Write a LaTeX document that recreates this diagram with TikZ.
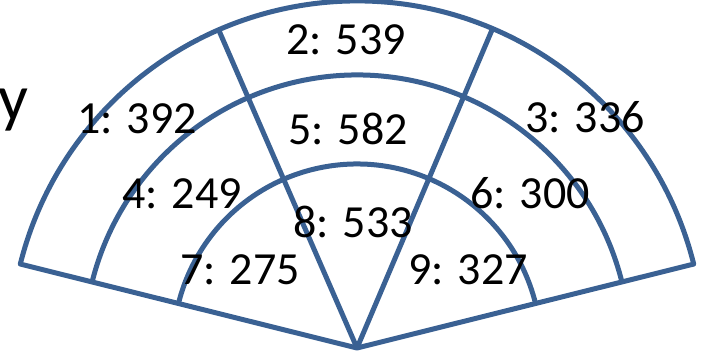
\documentclass[tikz,border=0pt]{standalone}
\usepackage{fontspec}
\setmainfont{Carlito}
\usepackage{tikz}
\usetikzlibrary{calc}
\definecolor{fanBlue}{HTML}{3A6193}

\begin{document}
\begin{tikzpicture}[x=1pt,y=1pt,
  rim/.style={draw=fanBlue,line width=5pt,line join=round},
  etiket/.style={anchor=base,inner sep=0pt,font=\fontsize{46}{54}\selectfont}]
\useasboundingbox (0,0) rectangle (703,357);
\coordinate (O) at (357,9);
\coordinate (dis1) at ($(O)+(14:347)$);
\coordinate (dis2) at ($(O)+(166:347)$);
\coordinate (ustSol) at ($(O)+(113.5:347)$);
\coordinate (ustSag) at ($(O)+(67:347)$);
% fan outline and rings
\draw[rim] (O) -- (dis1) arc[start angle=14,end angle=166,radius=347] -- cycle;
\draw[rim] ($(O)+(14:273)$) arc[start angle=14,end angle=166,radius=273];
\draw[rim] ($(O)+(14:184)$) arc[start angle=14,end angle=166,radius=184];
\draw[rim] (O) -- (ustSol);
\draw[rim] (O) -- (ustSag);
% cell labels
\node[anchor=base east,inner sep=0pt,font=\fontsize{66}{76}\selectfont] (baslik) at (29,237) {y};
\node[etiket] (h1) at (137,224) {1: 392};
\node[etiket] (h2) at (346,302) {2: 539};
\node[etiket] (h3) at (585,225) {3: 336};
\node[etiket] (h4) at (182,149) {4: 249};
\node[etiket] (h5) at (348,213) {5: 582};
\node[etiket] (h6) at (530,149) {6: 300};
\node[etiket] (h7) at (240,73) {7: 275};
\node[etiket] (h8) at (353,120) {8: 533};
\node[etiket] (h9) at (468,73) {9: 327};
\end{tikzpicture}
\end{document}
